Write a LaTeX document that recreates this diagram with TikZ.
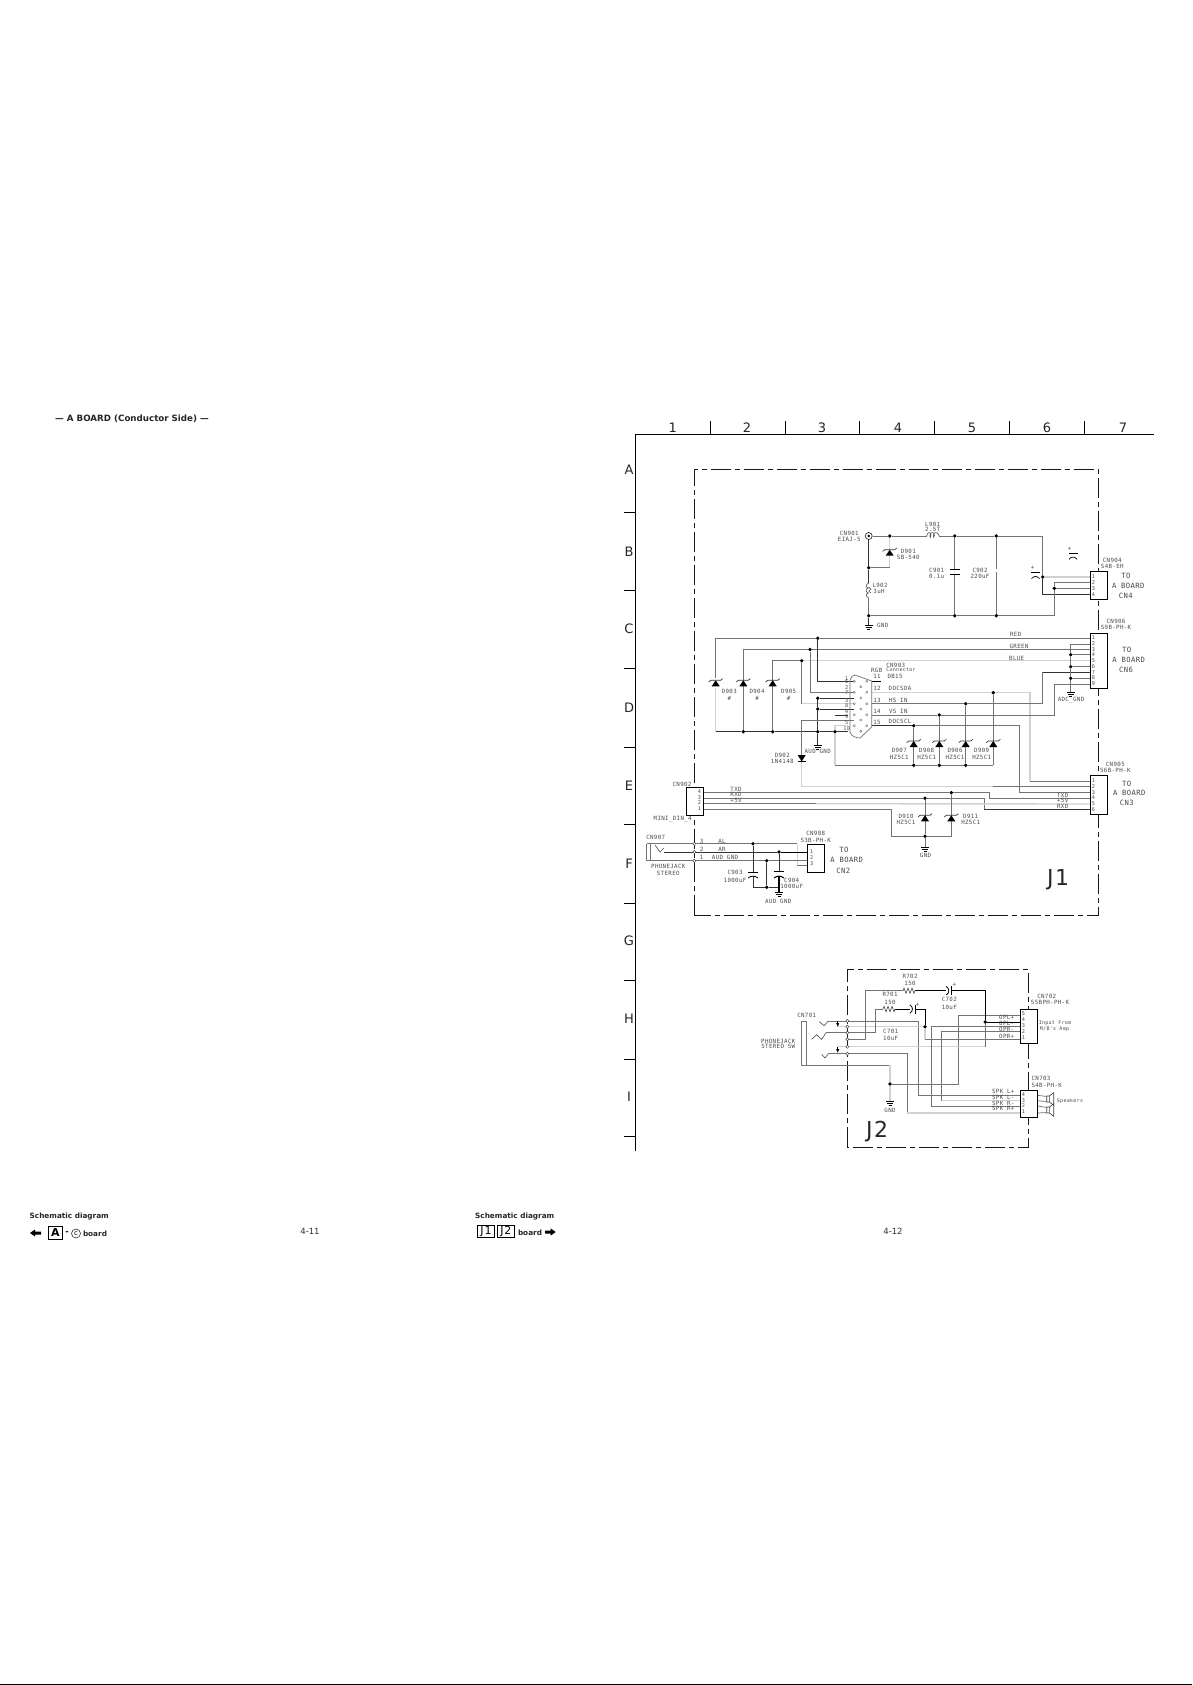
\documentclass[tikz,border=0pt]{standalone}
\usepackage{fontspec}
\setmainfont{DejaVu Sans}
\newfontfamily\lbf[LetterSpace=6]{DejaVu Sans Mono}
\newcount\lbn
\newcommand{\lb}[3]{\global\advance\lbn by 1 \node[lbl] (t\the\lbn) at (#1,#2) {#3};}
\newcommand{\lbs}[3]{\global\advance\lbn by 1 \node[lbls] (t\the\lbn) at (#1,#2) {#3};}
\newcommand{\lbg}[3]{\global\advance\lbn by 1 \node[lblg] (t\the\lbn) at (#1,#2) {#3};}
\newcommand{\pn}[3]{\global\advance\lbn by 1 \node[pnum] (t\the\lbn) at (#1,#2) {#3};}
\newcommand{\grd}[3]{\global\advance\lbn by 1 \node[gridl,font=\fontsize{#3}{#3}\selectfont] (t\the\lbn) at (#1) {#2};}
\newcommand{\dt}[3]{\node[jdot] (#1) at (#2,#3) {};}
\tikzset{
  lbl/.style={inner sep=0,text=black!70,font=\lbf\fontsize{5.8}{7}\selectfont},
  lbls/.style={inner sep=0,text=black!70,font=\lbf\fontsize{5}{6}\selectfont},
  lblg/.style={inner sep=0,text=black!72,font=\lbf\fontsize{7.2}{9}\selectfont},
  pnum/.style={inner sep=0,text=black!70,font=\lbf\fontsize{5.2}{6}\selectfont},
  gridl/.style={inner sep=0,text=black!85},
  jdot/.style={circle,fill=black,inner sep=0,minimum size=3.8pt},
  pinc/.style={circle,draw=black!70,fill=white,line width=.5pt,inner sep=0,minimum size=3.2pt},
  w/.style={draw=black!55,line width=.7pt},
  d/.style={draw=black!80,line width=.75pt},
  l/.style={draw=black!18,line width=1.4pt},
  k/.style={draw=black,line width=.9pt},
  frm/.style={draw=black,line width=1pt},
  bframe/.style={draw=black!90,line width=1pt,dash pattern=on 20pt off 4pt on 5pt off 4pt},
  cbox/.style={draw=black,line width=.9pt,fill=white},
  zener/.pic={\fill[black] (0,-3) -- (-4,3) -- (4,3) -- cycle;
    \draw[black!80,line width=.7pt] (-7,-1.3) -- (-5,-3) -- (5,-3) -- (7,-4.7);},
  gnd/.pic={\draw[black,line width=.9pt] (-4,0.5) -- (4,0.5) (-3,2.5) -- (3,2.5) (-1.5,4.5) -- (1.5,4.5);},
  res/.pic={\draw[black!70,line width=.6pt] (0,0) -- (1,-2.7) -- (3,2.7) -- (5,-2.7) -- (7,2.7) -- (9,-2.7) -- (11,2.7) -- (12,0);},
  pcap/.pic={\draw[black,line width=.8pt] (-4.5,0) -- (4.5,0);
    \draw[black,line width=.7pt] (-4,6) .. controls (-2,3) and (2,3) .. (4,6);},
  hcap/.pic={\draw[black,line width=.8pt] (-2.5,-4.2) .. controls (1,-2.5) and (1,2.5) .. (-2.5,4.2);
    \draw[black,line width=.9pt] (2.7,-4.5) -- (2.7,4.5);},
  spk/.pic={\draw[black!75,line width=.6pt] (0,-3) rectangle (2.7,3) (2.7,-3) -- (7,-6.3) -- (7,6.3) -- (2.7,3);},
  arrdown/.pic={\fill[black] (0,3) -- (-1.5,-.5) -- (1.5,-.5) -- cycle; \draw[black,line width=.8pt] (0,-3) -- (0,0);},
}
\begin{document}
\begin{tikzpicture}[x=1pt,y=-1pt]
\useasboundingbox (0,0) rectangle (1192,1685);
\fill[white] (0,0) rectangle (1192,1685);
% page rule
\coordinate (ruleL) at (0,1684.2); \coordinate (ruleR) at (1192,1684.2);
\draw[black,line width=1pt] (ruleL) -- (ruleR);
% title
\node[inner sep=0,font=\bfseries\fontsize{8.7}{10}\selectfont,text=black!85] (title) at (132,419) {— A BOARD (Conductor Side) —};
% grid frame
\draw[frm] (635.3,1151) -- (635.3,434.3) -- (1153.5,434.3);
\foreach \x in {710.3,785.3,859.3,934.5,1009,1084} \draw[frm] (\x,421) -- (\x,434.3);
\foreach \y in {512.3,590.3,668.6,747,824.5,903,980.4,1059,1136.6} \draw[frm] (624,\y) -- (635.3,\y);
\grd{672.7,427.5}{1}{13}\grd{747,428}{2}{13}\grd{822,427.5}{3}{13}\grd{898,428}{4}{13}\grd{972,428}{5}{13}\grd{1047,428}{6}{13}\grd{1123,428}{7}{13}
\grd{629,470}{A}{13}\grd{629,552}{B}{13}\grd{629,629}{C}{13}\grd{629,708}{D}{13}\grd{629,786}{E}{13}\grd{629,864}{F}{13}\grd{629,941}{G}{13}\grd{629,1019}{H}{13}\grd{629,1097}{I}{13}
% board frames
\draw[bframe] (694.3,915) -- (694.3,469.3) -- (1098.3,469.3) -- (1098.3,915) -- cycle;
\draw[bframe] (847.3,1147.3) -- (847.3,969) -- (1028.3,969) -- (1028.3,1147.3) -- cycle;
\grd{1058,880}{J\kern1.5pt 1}{22}
\grd{877,1132}{J\kern1.5pt 2}{22}
% junction dots
\dt{a1}{889.7}{536}\dt{a2}{954.7}{536}\dt{a3}{996.3}{536}\dt{a4}{1042.7}{577}
\dt{a5}{868.7}{567.7}\dt{a6}{868.7}{615.7}\dt{a7}{954.7}{615.7}\dt{a8}{996.3}{615.7}\dt{a9}{1054.3}{588.3}
\dt{b1}{1070.7}{654.7}\dt{b2}{1070.7}{666.7}\dt{b3}{1070.7}{678.3}
\dt{r1}{817.7}{638.3}\dt{g1}{810}{649.5}\dt{bl1}{801.7}{660.7}
\dt{m1}{743.3}{731.7}\dt{m2}{772.7}{731.7}\dt{m3}{817.7}{731.7}\dt{m4}{835}{731.7}
\dt{m5}{817.7}{698.3}\dt{m6}{817.7}{709}
\dt{p12}{993.3}{692.7}\dt{p13}{965.7}{703.7}\dt{p14}{939.3}{715}\dt{p15}{913.7}{725.7}
\dt{q1}{913.7}{765.3}\dt{q2}{939.3}{765.3}\dt{q3}{965.7}{765.3}
\dt{e1}{951.3}{792.7}\dt{e2}{925}{798.3}\dt{e3}{925}{836.3}
\dt{f1}{753}{843.7}\dt{f2}{779}{852}\dt{f3}{766.7}{860.7}\dt{f4}{766.7}{887.3}
\dt{j1}{925}{1026.7}\dt{j2}{985.3}{1022}\dt{j3}{890}{1084}
% connector pin points
\foreach \n/\y in {1/577,2/582.3,3/588.3,4/594.7} \coordinate (A\n) at (1090.3,\y);
\foreach \n/\y in {1/638.3,2/644,3/649.5,4/654.7,5/660.7,6/666.7,7/672.3,8/678.3,9/684} \coordinate (B\n) at (1090.3,\y);
\foreach \n/\y in {1/781.3,2/786.7,3/792.7,4/798,5/804,6/809.7} \coordinate (C\n) at (1090.3,\y);
\foreach \n/\y in {4/792.7,3/798.3,2/803.7,1/809.3} \coordinate (D\n) at (703.3,\y);
\foreach \n/\y in {1/852,2/860.7,3/865.7} \coordinate (E\n) at (807.3,\y);
\foreach \n/\y in {5/1015.3,4/1022,3/1026,2/1031.7,1/1039.3} \coordinate (F\n) at (1020.3,\y);
\foreach \n/\y in {4/1095.3,3/1100.7,2/1106,1/1113} \coordinate (G\n) at (1020.3,\y);
% --- CN901 area
\node[circle,draw=black!80,line width=.7pt,inner sep=0,minimum size=7pt] (cn901) at (868.7,536) {};
\fill[black] (cn901.center) circle (1.3pt);
\coordinate (l901a) at (926.7,536); \coordinate (l901b) at (939.3,536);
\coordinate (l902a) at (868.7,583); \coordinate (l902b) at (868.7,598);
\draw[w] (cn901) -- (a1) -- (l901a);
\draw[black!70,line width=.6pt] (l901a) .. controls (927.5,531.5) and (931,531.5) .. (931,535.5) .. controls (931,538) and (929.5,538) .. (929.8,535.5) .. controls (930,531.5) and (934.5,531.5) .. (934.5,535.5) .. controls (934.5,538) and (933,538) .. (933.3,535.5) .. controls (933.5,531.5) and (938,531.5) .. (939.3,536);
\draw[w] (l901b) -- (a2) -- (a3) -- (1042.7,536) -- (a4);
\draw[d] (a4) -- (1042.7,594.7) -- (A4);
\draw[l] (a4) -- (A1);
\draw[d] (cn901) -- (a5) -- (l902a);
\draw[black!70,line width=.6pt] (l902a) .. controls (865.5,584) and (865.5,588) .. (868.5,588) .. controls (865.5,588) and (865.5,593) .. (868.5,593) .. controls (865.5,593) and (865.5,597) .. (l902b);
\draw[black!70,line width=.5pt] (868.7,587) -- (871,589) -- (868.7,591) -- (871,593);
\draw[w] (l902b) -- (a6);
\draw[w] (a6) -- (a7) -- (a8) -- (1054.3,615.7) -- (a9);
\draw[w] (a9) -- (1054.3,582.3) -- (A2);
\draw[w] (a9) -- (A3);
\draw[l] (a1) -- (889.7,567.7);
\draw[w] (889.7,567.7) -- (a5);
\pic at (889.7,552.7) {zener};
\draw[w] (a2) -- (954.7,569.3); \draw[w] (954.7,574) -- (a7);
\draw[black,line width=.9pt] (949.7,569.3) -- (959.7,569.3) (949.7,574) -- (959.7,574);
\draw[w] (a3) -- (996.3,568.5); \draw[w] (996.3,571.5) -- (a8);
\pic at (1035.5,572.7) {pcap};
\pic at (1073,553.3) {pcap};
\lb{1032.5}{568}{+}\lb{1069.7}{549}{+}
\coordinate (gt1) at (868.7,624.5); \draw[d] (a6) -- (gt1); \pic at (gt1) {gnd};
% --- RGB wires
\coordinate (dbl1) at (854,681.3);\coordinate (dbl2) at (854,692.3);\coordinate (dbl3) at (854,703.7);\coordinate (dbl4) at (848,715);\coordinate (dbl5) at (854,720.3);\coordinate (dbl6) at (848,725.7);\coordinate (dbl7) at (848,731.7);
\coordinate (dbr1) at (871.7,681);\coordinate (dbr2) at (871.7,692.7);\coordinate (dbr3) at (871.7,703.7);\coordinate (dbr4) at (871.7,715);\coordinate (dbr5) at (871.7,725.7);
\draw[w] (B1) -- (r1) -- (715.7,638.3) -- (715.7,678);
\draw[l] (715.7,688) -- (715.7,731.7);
\draw[w] (B3) -- (g1) -- (743.3,649.5) -- (m1);
\draw[l] (B5) -- (bl1);
\draw[w] (bl1) -- (772.7,660.7) -- (m2);
\draw[d] (715.7,731.7) -- (m1) -- (m2) -- (m3) -- (m4) -- (dbl7);
\pic at (715.7,683.3) {zener}; \pic at (743.3,683.3) {zener}; \pic at (772.7,683.3) {zener};
\draw[d] (r1) -- (817.7,681.3) -- (dbl1);
\draw[w] (g1) -- (810,692.3) -- (dbl2);
\draw[w] (bl1) -- (801.7,703.7); \draw[l] (801.7,703.7) -- (dbl3);
\draw[d] (m5) -- (m6) -- (m3) -- (817.7,745);
\draw[d] (m5) -- (854,698.3); \draw[d] (m6) -- (854,709);
\draw[d] (835,715) -- (dbl4);
\draw[w] (dbl5) -- (801.7,720.3) -- (801.7,755);
\draw[l] (801.7,761) -- (801.7,786.7) -- (993,786.7);
\draw[w] (993,786.7) -- (C2);
\fill[black] (801.7,761.5) -- (797.7,755) -- (805.7,755) -- cycle;
\draw[black,line width=.9pt] (797.5,761.7) -- (805.9,761.7);
\pic at (817.7,745) {gnd};
\draw[l] (m4) -- (835,725.7) -- (dbl6);
\draw[l] (m4) -- (835,765.3);
\draw[w] (835,765.3) -- (q1) -- (q2) -- (q3) -- (993.3,765.3);
\draw[k,line width=1pt] (dbr1) -- (881,681);
\draw[l] (dbr2) -- (p12) -- (1030,692.7) -- (1030,781.3);
\draw[w] (1030,781.3) -- (C1);
\draw[w] (dbr3) -- (p13) -- (1042.7,703.7) -- (1042.7,672.3);
\draw[d] (1042.7,672.3) -- (B7);
\draw[w] (dbr4) -- (p14) -- (1054.3,715) -- (1054.3,684) -- (B9);
\draw[d] (dbr5) -- (p15);
\draw[w] (p15) -- (1019.3,725.7) -- (1019.3,792.7) -- (C3);
\draw[w] (p15) -- (q1); \draw[w] (p14) -- (q2); \draw[w] (p13) -- (q3); \draw[w] (p12) -- (993.3,765.3);
\pic at (913.7,744) {zener}; \pic at (939.3,744) {zener}; \pic at (965.7,744) {zener}; \pic at (993.3,744) {zener};
% pin 2..8 of CN906
\draw[w] (B2) -- (1070.7,644) -- (b1) -- (b2) -- (b3) -- (1070.7,692);
\draw[w] (b1) -- (B4); \draw[w] (b2) -- (B6); \draw[w] (b3) -- (B8);
\pic at (1070.7,691.5) {gnd};
% DB15
\draw[w] (850,680) .. controls (851,677) and (853,675) .. (855,675) -- (871.7,681) -- (871.7,727) -- (860,738) .. controls (856,738) and (851,736) .. (850,732) -- cycle;
\foreach \y in {681.3,692.3,703.7,714.7,725.7} {\draw[black!55,line width=.4pt] (854.3,\y) circle (1.1pt); \draw[black!55,line width=.4pt] (866.7,\y) circle (1.1pt);}
\foreach \y in {686.7,698,709,720,731.3} \draw[black!55,line width=.4pt] (860.7,\y) circle (1.1pt);
% --- CN902 wires
\draw[w] (D4) -- (e1) -- (989.3,792.7) -- (989.3,798) -- (C4);
\draw[w] (D3) -- (e2) -- (984.3,798.3) -- (984.3,809.7);
\draw[d] (984.3,809.7) -- (C6);
\draw[w] (D2) -- (816,803.7); \draw[l] (816,803.7) -- (C5);
\draw[w] (D1) -- (891.7,809.3) -- (891.7,836.3) -- (e3) -- (951.3,836.3) -- (e1);
\draw[w] (e2) -- (e3);
\coordinate (gt2) at (925,847); \draw[w] (e3) -- (gt2); \pic at (gt2) {gnd};
\pic at (925,818.3) {zener}; \pic at (951.3,818.3) {zener};
% --- audio
\draw[w] (646.7,843.7) -- (f1) -- (797.3,843.7);
\draw[l] (797.3,843.7) -- (797.3,865.7);
\draw[w] (797.3,865.7) -- (E3);
\draw[black!70,line width=.6pt] (655,845) -- (660,852) -- (664,848);
\draw[d] (664,852) -- (f2);
\draw[k] (f2) -- (E1);
\draw[w] (646.7,860.7) -- (f3) -- (E2);
\draw[w] (646.7,843.7) -- (646.7,860.7) (650,843.7) -- (650,860.7);
\foreach \y in {843.7,852,860.7} \node[pinc] at (694.3,\y) {};
\draw[d] (f1) -- (753,872.3);
\draw[d] (753,876) -- (753,887.3) -- (f4) -- (779,887.3);
\draw[d] (f3) -- (f4);
\draw[d] (f2) -- (779,871.7);
\draw[black,line width=1.6pt] (779,876) -- (779,892);
\draw[black,line width=.9pt] (748,872.3) -- (758,872.3) (774,871.7) -- (784,871.7);
\draw[black,line width=.8pt] (748,878) .. controls (751,875.5) and (755,875.5) .. (758,878);
\draw[black,line width=1pt] (774,878) .. controls (777,875.5) and (781,875.5) .. (784,878);
\pic at (779,892) {gnd};
% --- J2 wiring
\coordinate (chA) at (828.3,1021);\coordinate (chB) at (826,1032.7);\coordinate (chC) at (828.3,1053.7);
\draw[w] (801.7,1021.7) rectangle (806,1065);
\draw[w] (806,1065) -- (890,1065);
\draw[l] (890,1065) -- (j3) -- (890,1101);
\draw[w] (j3) -- (958.3,1084) -- (958.3,1015.3) -- (F5);
\pic at (890,1101) {gnd};
\draw[black!70,line width=.6pt] (819.3,1021.7) -- (824,1025.7) -- (chA);
\draw[black!70,line width=.6pt] (811.7,1039.3) -- (816.7,1034.7) -- (821.7,1039.3) -- (chB);
\draw[black!70,line width=.6pt] (821.7,1054.3) -- (825,1058) -- (chC);
\draw[w] (chA) -- (918.3,1021) -- (918.3,1095.3) -- (G4);
\draw[l] (837,1026.7) -- (j1);
\draw[l] (j1) -- (925,1039.3);
\draw[w] (925,1039.3) -- (F1);
\draw[k] (j1) -- (925,1009) -- (915.5,1009);
\draw[w] (chB) -- (875.7,1032.7) -- (875.7,1009) -- (883,1009);
\pic at (883,1009) {res};
\draw[k] (895,1009) -- (909.5,1009);
\pic at (912.3,1009) {hcap};
\draw[w] (847.3,1039.3) -- (865,1039.3) -- (865,990.7) -- (903,990.7);
\pic at (903,990.7) {res};
\draw[k] (915,990.7) -- (946,990.7);
\pic at (948.7,990.7) {hcap};
\draw[k] (951.4,990.7) -- (985.3,990.7) -- (j2);
\draw[k] (j2) -- (F4);
\draw[l] (838,1046.7) -- (985.3,1046.7);
\draw[w] (985.3,1046.7) -- (j2);
\draw[w] (chC) -- (907,1053.7) -- (907,1113);
\draw[l] (907,1113) -- (G1);
\draw[w] (F3) -- (931.7,1026) -- (931.7,1106) -- (G2);
\draw[w] (F2) -- (941.7,1031.7) -- (941.7,1100.7);
\draw[l] (941.7,1100.7) -- (G3);
\foreach \y in {1021,1026.7,1032.7,1039.3,1046.7,1053.7} \node[pinc] at (847.3,\y) {};
\pic at (837.7,1023.7) {arrdown};
\pic at (837.7,1049.7) {arrdown};
% --- connector boxes
\node[cbox,minimum width=17pt,minimum height=27.6pt,inner sep=0] (cn904) at (1098.8,585.5) {};
\node[cbox,minimum width=17pt,minimum height=55pt,inner sep=0] (cn906) at (1098.8,660.8) {};
\node[cbox,minimum width=17pt,minimum height=39pt,inner sep=0] (cn905) at (1098.8,794.8) {};
\node[cbox,minimum width=17pt,minimum height=28pt,inner sep=0] (cn902) at (694.8,801.3) {};
\node[cbox,minimum width=17pt,minimum height=28pt,inner sep=0] (cn908) at (815.8,858.3) {};
\node[cbox,minimum width=17pt,minimum height=34pt,inner sep=0] (cn702) at (1028.8,1026.3) {};
\node[cbox,minimum width=17pt,minimum height=27.3pt,inner sep=0] (cn703) at (1028.8,1103.6) {};
% speakers
\pic at (1046.7,1099) {spk}; \pic at (1046.7,1110) {spk};
\draw[w] (G4-|cn703.east) -- (1046.7,1096.5) (G3-|cn703.east) -- (1046.7,1101.5) (G2-|cn703.east) -- (1046.7,1107.5) (G1-|cn703.east) -- (1046.7,1112.5);
% pin numbers
\foreach \n/\y in {1/577,2/582.3,3/588.3,4/594.7} {\pn{1093.5}{\y}{\n}}
\foreach \n/\y in {1/638,2/644,3/649.7,4/655,5/661,6/667,7/672.5,8/678,9/684} {\pn{1093.5}{\y}{\n}}
\foreach \n/\y in {1/781,2/786.7,3/792.7,4/798,5/804,6/809.7} {\pn{1093.5}{\y}{\n}}
\foreach \n/\y in {4/792,3/797.5,2/803,1/808.5} {\pn{699.5}{\y}{\n}}
\foreach \n/\y in {1/851.7,2/857.5,3/864} {\pn{811.7}{\y}{\n}}
\foreach \n/\y in {5/1014,4/1019.5,3/1025.7,2/1031.7,1/1037.7} {\pn{1023.3}{\y}{\n}}
\foreach \n/\y in {4/1095,3/1100.7,2/1106,1/1112} {\pn{1023.3}{\y}{\n}}
\foreach \n/\y in {1/678.3,6/682,2/687.7,7/692.3,3/700.3,8/706,4/711.7,9/716.7,5/722.3,10/728.7} {\pn{846.7}{\y}{\n}}
% labels
\lb{849.3}{533}{CN901}\lb{849.3}{539}{EIAJ-5}
\lb{908.3}{551}{D901}\lb{908.3}{557.7}{SB-540}
\lb{932.7}{524}{L901}\lb{932.7}{529.5}{2.5T}
\lb{880}{585}{L902}\lb{879}{591.7}{3uH}
\lb{936.7}{570}{C901}\lb{936.7}{576}{0.1u}
\lb{980}{570}{C902}\lb{980}{576}{220uF}
\lb{882.7}{625.7}{GND}
\lb{1112.3}{560}{CN904}\lb{1112.3}{566}{S4B-EH}
\lbg{1126}{576}{TO}\lbg{1128.3}{586}{A BOARD}\lbg{1125.7}{596}{CN4}
\lb{1116}{621}{CN906}\lb{1116}{627.7}{S9B-PH-K}
\lbg{1126.7}{650}{TO}\lbg{1128.7}{660}{A BOARD}\lbg{1126}{670}{CN6}
\lb{1015.7}{634.7}{RED}\lb{1019}{646}{GREEN}\lb{1016.7}{658}{BLUE}
\lb{895.7}{665}{CN903}\lb{876.7}{670}{RGB}\lbs{901}{670}{Connector}\lb{895}{676}{DB15}
\lb{877}{676.3}{11}\lb{877}{688.7}{12}\lb{877}{700}{13}\lb{877}{711.7}{14}\lb{877}{722}{15}
\lb{900}{688.7}{DOCSDA}\lb{898.3}{700}{HS IN}\lb{898.3}{711.7}{VS IN}\lb{900}{721.7}{DOCSCL}
\lb{729.3}{691.7}{D903}\lb{729.3}{698.7}{\#}
\lb{757}{691.7}{D904}\lb{757}{698.7}{\#}
\lb{788.7}{691.7}{D905}\lb{788.7}{698.7}{\#}
\lb{782.3}{755.7}{D902}\lb{782.3}{761.7}{1N4148}
\lb{817.7}{751}{AUD GND}
\lb{899.3}{750.7}{D907}\lb{899.3}{757}{HZ5C1}
\lb{926.7}{750.7}{D908}\lb{926.7}{757}{HZ5C1}
\lb{955}{750.7}{D906}\lb{955}{757}{HZ5C1}
\lb{981.7}{750.7}{D909}\lb{981.7}{757}{HZ5C1}
\lb{1071}{700}{ADC\_GND}
\lb{906}{816}{D910}\lb{906}{822}{HZ5C1}
\lb{970.7}{816}{D911}\lb{970.7}{822}{HZ5C1}
\lb{925.5}{855}{GND}
\lb{1115.3}{764}{CN905}\lb{1115.3}{770}{S6B-PH-K}
\lbg{1126.7}{784}{TO}\lbg{1129.3}{793}{A BOARD}\lbg{1126.7}{803}{CN3}
\lb{682}{784}{CN902}\lb{672.7}{819.5}{MINI\_DIN\_4}
\lb{736}{789.5}{TXD}\lb{736}{794.5}{RXD}\lb{736}{800.7}{+5V}
\lb{1062.7}{795}{TXD}\lb{1062.7}{800.3}{+5V}\lb{1062.7}{806}{RXD}
\lb{655.7}{837.3}{CN907}\lb{668.3}{866.3}{PHONEJACK}\lb{668.3}{873}{STEREO}
\lb{701.7}{841}{3}\lb{722}{841}{AL}\lb{701.7}{849}{2}\lb{722}{849}{AR}\lb{701.7}{857.5}{1}\lb{725}{857.5}{AUD GND}
\lb{735}{872}{C903}\lb{735}{880}{1000uF}\lb{791.7}{880}{C904}\lb{791.7}{886}{1000uF}
\lb{778.3}{901}{AUD GND}
\lb{815.7}{833}{CN908}\lb{815.7}{840}{S3B-PH-K}
\lbg{844}{850}{TO}\lbg{846.7}{860}{A BOARD}\lbg{843.3}{870.7}{CN2}
\lb{806.7}{1015}{CN701}\lb{778.3}{1041}{PHONEJACK}\lb{778.3}{1046.7}{STEREO SW}
\lb{910}{976.7}{R702}\lb{910}{983}{150}\lb{890}{994.7}{R701}\lb{890}{1002}{150}
\lb{890.7}{1031.7}{C701}\lb{890.7}{1038}{10uF}\lb{949.3}{999.7}{C702}\lb{949.3}{1007}{10uF}
\lb{954.3}{985.3}{+}\lb{917.7}{1004.7}{+}
\lb{890}{1110}{GND}
\lb{1046.7}{996.7}{CN702}\lb{1050}{1002.7}{S5BPH-PH-K}
\lb{1041}{1078.7}{CN703}\lb{1046.7}{1085.7}{S4B-PH-K}
\lbs{1055}{1022.7}{Input From}\lbs{1054.5}{1029}{M/B's Amp}
\lbs{1070}{1101}{Speakers}
\lb{1006.7}{1017.3}{OPL+}\lb{1006.7}{1023.7}{OPL-}\lb{1006.7}{1029.7}{OPR-}\lb{1006.7}{1036}{OPR+}
\lb{1003.3}{1091.7}{SPK L+}\lb{1003.3}{1097.7}{SPK L-}\lb{1003.3}{1103}{SPK R-}\lb{1003.3}{1108.7}{SPK R+}
% footer
\node[inner sep=0,font=\bfseries\fontsize{7.3}{9}\selectfont,text=black!85,anchor=west] (fs1) at (29.5,1216.5) {Schematic diagram};
\node[inner sep=0,font=\bfseries\fontsize{7.3}{9}\selectfont,text=black!85,anchor=west] (fs2) at (475,1216.5) {Schematic diagram};
\node[inner sep=0,font=\fontsize{8.5}{9}\selectfont,text=black!80] (p1) at (310,1231) {4-11};
\node[inner sep=0,font=\fontsize{8.5}{9}\selectfont,text=black!80] (p2) at (893,1231) {4-12};
\fill[black] (30,1233) -- (35,1229.5) -- (35,1231.5) -- (41,1231.5) -- (41,1234.5) -- (35,1234.5) -- (35,1236.5) -- cycle;
\node[draw=black,line width=.9pt,minimum width=14pt,minimum height=13pt,inner sep=0,font=\bfseries\fontsize{11}{12}\selectfont] (ba) at (55.3,1232.5) {A};
\node[inner sep=0,font=\bfseries\fontsize{8}{9}\selectfont] (dash) at (67,1233.5) {-};
\node[circle,draw=black!80,line width=.6pt,inner sep=0,minimum size=9pt,font=\fontsize{7}{8}\selectfont] (bc) at (76,1233.5) {c};
\node[inner sep=0,font=\bfseries\fontsize{7.3}{9}\selectfont,text=black!85] (bd1) at (95,1233.5) {board};
\node[draw=black,line width=.9pt,minimum width=17.5pt,minimum height=12.7pt,inner sep=0,font=\fontsize{11}{12}\selectfont] (bj1) at (486,1231.3) {J\kern.8pt 1};
\node[draw=black,line width=.9pt,minimum width=17pt,minimum height=12.7pt,inner sep=0,font=\fontsize{11}{12}\selectfont] (bj2) at (505.8,1231.3) {J\kern.8pt 2};
\node[inner sep=0,font=\bfseries\fontsize{7.3}{9}\selectfont,text=black!85] (bd2) at (530,1232.5) {board};
\fill[black] (555.7,1232) -- (550.7,1228.5) -- (550.7,1230.5) -- (545,1230.5) -- (545,1233.5) -- (550.7,1233.5) -- (550.7,1235.5) -- cycle;
\end{tikzpicture}
\end{document}
